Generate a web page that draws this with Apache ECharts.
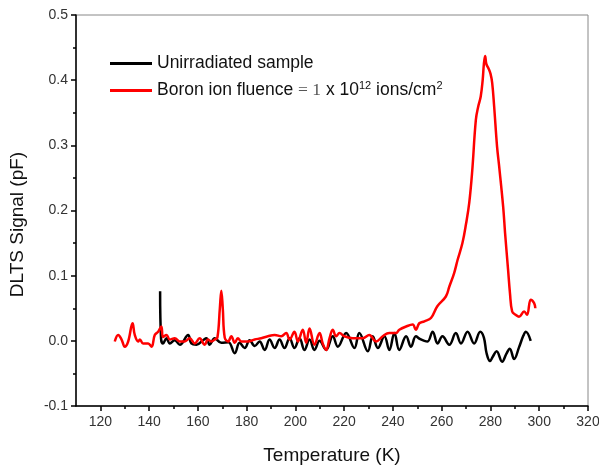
<!DOCTYPE html>
<html>
<head>
<meta charset="utf-8">
<script src="https://cdn.jsdelivr.net/npm/echarts@6/dist/echarts.min.js"></script>
<style>html,body{margin:0;padding:0;background:#fff}#c{width:599px;height:466px}</style>
</head>
<body>
<div id="c"></div>
<script>
// Unirradiated sample
var blackT = [144.5,144.9,145.7,147.1,148.5,150.5,152.6,156.0,157.3,159.4,162.1,163.5,164.8,166.9,169.6,172.5,175.1,177.1,179.2,181.2,183.3,185.3,187.4,189.4,191.5,193.5,195.5,197.6,199.6,201.7,203.7,205.8,207.8,209.9,212.6,215.3,217.4,220.8,224.2,226.2,229.7,231.7,233.8,236.5,238.5,240.6,242.6,245.4,247.4,249.4,251.0,252.9,254.2,256.3,258.3,260.3,263.1,265.8,267.9,270.6,273.3,275.8,277.3,278.4,279.8,281.0,282.5,284.8,286.5,287.9,289.7,291.7,293.5,294.5,296.5];
var blackV = [0.076,0.003,-0.004,0.004,-0.004,0.001,-0.006,0.009,-0.004,-0.006,0.001,0.004,-0.006,0.004,-0.003,-0.002,-0.019,-0.003,-0.011,0.001,-0.008,-0.001,-0.014,0.002,-0.011,0.002,-0.011,0.004,-0.011,0.004,-0.014,0.002,-0.014,0.000,-0.014,0.007,-0.009,0.012,-0.011,0.012,-0.016,0.007,-0.011,0.007,-0.014,0.012,-0.014,0.007,-0.009,0.007,0.003,0.000,-0.001,0.014,-0.004,0.007,-0.006,0.012,-0.004,0.014,-0.004,0.014,0.005,-0.019,-0.031,-0.024,-0.016,-0.032,-0.020,-0.012,-0.028,-0.010,0.008,0.014,0.000];
// Boron ion fluence = 1 x 10^12 ions/cm^2
var redT = [125.9,127.3,128.7,130.0,131.4,133.2,134.1,135.5,136.2,137.5,139.6,141.0,142.3,143.7,145.0,145.7,147.1,148.5,150.5,152.6,154.6,156.6,158.7,160.7,162.8,164.1,165.5,166.9,168.0,169.0,169.6,170.2,171.0,172.4,173.7,175.1,176.4,177.8,180.5,183.3,186.0,188.7,191.5,194.2,196.2,197.6,199.6,201.0,203.0,204.4,205.8,207.8,209.9,211.2,212.6,214.0,215.3,216.7,218.1,220.1,223.5,227.6,230.3,233.1,235.8,238.5,241.3,242.6,245.4,248.1,249.4,250.8,252.9,255.6,258.2,261.7,263.1,265.1,266.5,268.5,270.0,271.3,272.5,274.0,275.0,276.0,276.8,277.3,277.8,278.3,279.2,280.0,280.7,281.5,282.7,283.5,285.2,286.0,287.2,288.0,288.9,290.3,291.7,293.8,295.0,296.5,297.9,298.4];
var redV = [-0.001,0.009,0.002,-0.009,-0.001,0.027,0.009,-0.001,0.002,-0.004,-0.004,-0.009,0.009,0.014,0.022,0.006,0.009,0.002,0.004,-0.001,-0.001,0.004,-0.004,0.004,-0.006,0.002,-0.001,0.002,0.005,0.050,0.077,0.050,0.005,-0.001,0.007,-0.003,0.004,-0.001,-0.001,0.002,0.004,0.007,0.009,0.007,0.012,0.002,0.014,-0.001,0.017,-0.003,0.019,-0.006,0.012,-0.004,-0.014,0.004,0.017,0.007,0.012,0.007,0.004,0.004,0.009,-0.001,0.007,0.012,0.012,0.017,0.022,0.025,0.017,0.027,0.030,0.035,0.053,0.068,0.083,0.104,0.124,0.150,0.180,0.212,0.260,0.339,0.360,0.375,0.400,0.425,0.437,0.425,0.418,0.410,0.396,0.360,0.298,0.270,0.206,0.165,0.110,0.073,0.045,0.040,0.037,0.045,0.040,0.063,0.058,0.050];
var xMajorTicks = [120,140,160,180,200,220,240,260,280,300,320];
var xMinorTicks = [130,150,170,190,210,230,250,270,290,310];
var seriesNames = ['Unirradiated sample', 'Boron ion fluence = 1 x 10^12 ions/cm^2'];

function zip(a, b) { return a.map(function (v, i) { return [v, b[i]]; }); }

var chart = echarts.init(document.getElementById('c'));
var FONT = 'Liberation Sans, Arial, sans-serif';
chart.setOption({
  backgroundColor: '#fff',
  animation: false,
  grid: { left: 76, right: 11, top: 15, bottom: 60, show: true, borderColor: '#888', borderWidth: 1, outerBoundsMode: 'none', containLabel: false },
  legend: {
    orient: 'vertical', left: 105, top: 48, itemWidth: 42, itemHeight: 3, itemGap: 6,
    icon: 'rect',
    data: seriesNames,
    textStyle: {
      fontFamily: FONT, fontSize: 17.5, color: '#111', lineHeight: 21,
      rich: {
        a: { fontFamily: FONT, fontSize: 17.5, color: '#111', lineHeight: 21 },
        s: { fontFamily: 'Liberation Serif, Times New Roman, serif', fontSize: 17.5, color: '#555', lineHeight: 21 },
        sup: { fontFamily: FONT, fontSize: 11, color: '#111', verticalAlign: 'top', lineHeight: 11 }
      }
    },
    formatter: function (n) {
      if (n === seriesNames[1]) {
        return '{a|Boron ion fluence }{s|= 1}{a| x 10}{sup|12}{a| ions/cm}{sup|2}';
      }
      return n;
    }
  },
  xAxis: [{
    type: 'value', min: 110, max: 320,
    name: 'Temperature (K)', nameLocation: 'middle', nameGap: 40,
    nameTextStyle: { fontFamily: FONT, fontSize: 19, color: '#111' },
    axisLine: { show: true, onZero: false, lineStyle: { color: '#000', width: 1.5 } },
    axisTick: { show: true, inside: false, length: 5, customValues: xMajorTicks, lineStyle: { color: '#000', width: 1.5 } },
    axisLabel: { customValues: xMajorTicks, fontFamily: FONT, fontSize: 14, color: '#333', margin: 9 },
    splitLine: { show: false }
  }, {
    type: 'value', min: 110, max: 320, position: 'bottom',
    axisLine: { show: false, onZero: false },
    axisTick: { show: true, inside: false, length: 3, customValues: xMinorTicks, lineStyle: { color: '#000', width: 1.5 } },
    axisLabel: { show: false },
    splitLine: { show: false }
  }],
  yAxis: {
    type: 'value', min: -0.1, max: 0.5, interval: 0.1,
    name: 'DLTS Signal (pF)', nameLocation: 'middle', nameGap: 49,
    nameTextStyle: { fontFamily: FONT, fontSize: 19, color: '#111', padding: [0, 28, 0, 0] },
    axisLine: { show: true, onZero: false, lineStyle: { color: '#000', width: 1.5 } },
    axisTick: { show: true, inside: false, length: 5, lineStyle: { color: '#000', width: 1.5 } },
    minorTick: { show: true, splitNumber: 2, length: 3, lineStyle: { color: '#000', width: 1.5 } },
    axisLabel: { fontFamily: FONT, fontSize: 14, color: '#333', margin: 8, formatter: function (v) { return v.toFixed(1); } },
    splitLine: { show: false }
  },
  series: [{
    name: seriesNames[0], type: 'line', symbol: 'none', smooth: 0.4,
    data: zip(blackT, blackV),
    lineStyle: { color: '#000', width: 2.5 }, itemStyle: { color: '#000' }
  }, {
    name: seriesNames[1], type: 'line', symbol: 'none', smooth: 0.4,
    data: zip(redT, redV),
    lineStyle: { color: '#f00', width: 2.5 }, itemStyle: { color: '#f00' }
  }]
});
</script>
</body>
</html>
